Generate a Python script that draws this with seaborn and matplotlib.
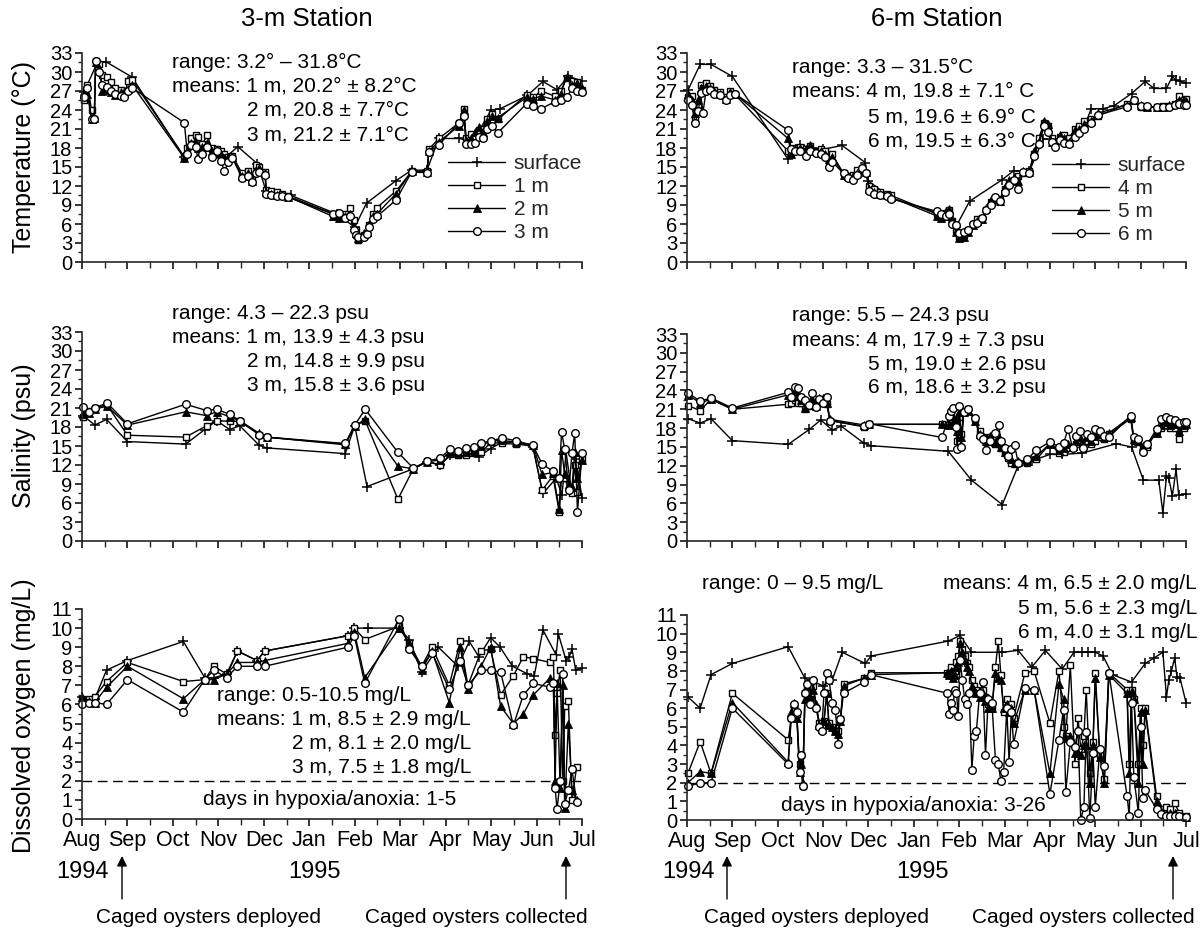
import matplotlib
matplotlib.use("Agg")
import matplotlib.pyplot as plt
from matplotlib.lines import Line2D
from matplotlib.ticker import MultipleLocator
import seaborn as sns

# x positions are months after 1 Aug 1994 (0 = Aug, 11 = Jul 1995)
MONTHS = ["Aug", "Sep", "Oct", "Nov", "Dec", "Jan", "Feb", "Mar", "Apr", "May", "Jun", "Jul"]

# ---- 3-m station, temperature (deg C)
T3_SURF_X = [0.04, 0.34, 0.53, 1.10, 2.25, 2.50, 2.95, 3.20, 3.43, 3.86,
             4.05, 4.60, 5.60, 6.00, 6.26, 6.90, 7.25, 7.59, 7.85, 8.30,
             8.60, 9.00, 9.20, 9.80, 10.14, 10.45, 10.70, 11.00]
T3_SURF = [26.8, 31.5, 31.6, 29.2, 16.5, 18.5, 17.0, 16.8, 18.2, 15.5,
           11.2, 10.5, 7.6, 5.5, 9.3, 12.8, 14.5, 14.5, 19.5, 19.5,
           19.0, 24.0, 24.2, 26.3, 28.5, 27.2, 29.3, 28.6]
T3_X = [0.04, 0.12, 0.21, 0.27, 0.30, 0.38, 0.45, 0.55, 0.64, 0.72,
        0.85, 0.93, 1.02, 1.10, 2.25, 2.32, 2.40, 2.50, 2.55, 2.64,
        2.76, 2.85, 2.98, 3.06, 3.13, 3.22, 3.31, 3.52, 3.65, 3.73,
        3.82, 3.90, 4.03, 4.05, 4.16, 4.29, 4.41, 4.54, 5.52, 5.65,
        5.79, 5.90, 5.98, 6.02, 6.08, 6.20, 6.28, 6.32, 6.40, 6.49,
        6.91, 7.25, 7.59, 7.63, 7.85, 8.30, 8.40, 8.45, 8.55, 8.65,
        8.74, 8.82, 8.90, 9.03, 9.15, 9.78, 9.93, 10.10, 10.40, 10.53,
        10.66, 10.78, 10.90, 11.00]
T3_1M = [25.5, 28.0, 24.0, 22.5, 31.7, 31.2, 29.5, 29.2, 28.4, 27.5,
         27.2, 26.6, 28.6, 28.8, 16.6, 18.0, 19.5, 20.0, 19.8, 18.6,
         20.0, 18.0, 17.8, 17.5, 17.0, 16.5, 16.8, 14.0, 14.3, 13.3,
         15.3, 15.0, 14.2, 11.4, 11.2, 11.0, 10.8, 10.4, 7.6, 7.3,
         7.6, 8.6, 6.6, 5.0, 3.4, 4.2, 4.6, 5.8, 7.6, 8.6,
         11.2, 14.3, 14.3, 17.8, 19.5, 22.0, 24.2, 19.6, 20.2, 19.8,
         20.8, 21.0, 22.5, 23.4, 22.5, 26.4, 26.0, 27.0, 26.2, 27.0,
         29.0, 28.5, 28.4, 27.2]
T3_2M = [27.0, 26.5, 22.5, 22.8, 31.5, 30.5, 27.0, 27.2, 26.8, 26.3,
         26.8, 26.8, 27.3, 28.0, 16.4, 17.5, 18.8, 19.0, 18.0, 18.2,
         18.8, 17.6, 17.2, 17.0, 16.4, 16.6, 16.5, 13.6, 14.0, 12.8,
         14.6, 14.8, 14.0, 11.0, 10.8, 10.6, 10.6, 10.3, 7.2, 7.0,
         7.2, 7.6, 5.5, 4.5, 3.8, 4.5, 4.8, 6.0, 7.2, 7.6,
         10.8, 14.3, 14.2, 17.5, 19.0, 21.5, 24.0, 19.2, 19.5, 20.5,
         21.3, 20.6, 22.2, 23.0, 22.8, 26.0, 25.8, 26.2, 25.6, 26.5,
         29.2, 28.0, 28.2, 27.5]
T3_3M = [26.0, 27.5, 22.5, 22.5, 31.8, 30.0, 28.0, 27.6, 27.0, 26.5,
         26.2, 26.0, 27.0, 27.5, 22.0, 17.0, 18.5, 18.2, 16.2, 17.0,
         18.2, 16.6, 17.5, 16.0, 14.3, 15.8, 16.4, 13.3, 13.5, 12.6,
         14.0, 14.2, 13.8, 10.8, 10.5, 10.4, 10.4, 10.2, 7.6, 7.8,
         7.0, 7.2, 5.0, 4.2, 4.0, 3.9, 4.4, 5.5, 6.8, 7.2,
         9.8, 14.2, 14.1, 17.3, 18.5, 22.0, 23.0, 18.6, 18.6, 18.8,
         19.7, 19.5, 21.0, 21.4, 20.4, 25.0, 24.6, 24.2, 25.3, 25.5,
         26.0, 27.4, 27.0, 26.8]

# ---- 6-m station, temperature (deg C)
T6_SURF_X = [0.02, 0.29, 0.53, 1.00, 2.23, 2.50, 3.00, 3.42, 3.93, 4.00,
             4.50, 5.55, 5.93, 6.23, 6.95, 7.20, 7.55, 7.85, 8.27, 8.74,
             8.91, 9.17, 9.42, 9.80, 10.10, 10.30, 10.57, 10.70, 10.78, 10.87,
             11.00]
T6_SURF = [27.1, 31.2, 31.2, 29.3, 16.2, 18.4, 17.8, 18.4, 15.7, 12.8,
           10.1, 7.7, 5.6, 9.6, 13.0, 14.4, 14.4, 19.4, 19.4, 21.0,
           24.2, 24.2, 24.7, 26.6, 28.5, 27.4, 27.4, 29.3, 28.7, 28.5,
           28.2]
T6_X = [0.02, 0.10, 0.18, 0.25, 0.30, 0.35, 0.42, 0.50, 0.60, 0.72,
        0.85, 0.95, 1.05, 2.23, 2.30, 2.38, 2.50, 2.62, 2.72, 2.85,
        2.95, 3.05, 3.12, 3.20, 3.45, 3.55, 3.65, 3.75, 3.85, 3.95,
        4.02, 4.12, 4.25, 4.40, 4.50, 5.50, 5.60, 5.70, 5.78, 5.85,
        5.92, 6.00, 6.10, 6.20, 6.30, 6.40, 6.50, 6.60, 6.70, 6.80,
        6.90, 7.00, 7.10, 7.20, 7.30, 7.40, 7.55, 7.65, 7.75, 7.88,
        7.96, 8.05, 8.12, 8.22, 8.32, 8.42, 8.55, 8.65, 8.75, 8.90,
        9.05, 9.70, 9.85, 10.00, 10.15, 10.35, 10.50, 10.62, 10.75, 10.85,
        10.95, 11.00]
T6_4M = [26.0, 26.2, 22.5, 24.8, 28.0, 27.5, 28.2, 27.8, 27.2, 26.8,
         26.0, 27.0, 26.5, 17.5, 17.2, 18.0, 18.2, 17.5, 18.3, 17.6,
         17.8, 17.5, 16.0, 17.0, 14.0, 13.5, 13.8, 14.5, 14.8, 14.0,
         12.0, 11.5, 11.0, 10.8, 10.5, 7.6, 7.3, 7.8, 8.2, 6.5,
         5.0, 4.0, 4.2, 5.0, 6.0, 6.8, 7.0, 8.2, 9.5, 9.8,
         10.0, 11.5, 12.5, 12.8, 13.5, 14.0, 14.4, 17.0, 19.5, 22.0,
         21.5, 19.5, 18.8, 19.8, 20.0, 19.5, 21.0, 21.5, 22.2, 22.6,
         23.0, 25.0, 25.5, 24.5, 24.4, 24.5, 24.6, 24.6, 25.0, 26.2,
         25.5, 25.8]
T6_5M = [26.5, 25.5, 23.5, 25.5, 27.5, 27.0, 27.8, 27.5, 27.0, 26.5,
         25.8, 26.8, 26.6, 19.5, 17.0, 17.8, 18.0, 17.8, 18.5, 17.5,
         17.5, 17.0, 16.2, 16.6, 13.8, 13.5, 13.5, 14.0, 14.5, 14.2,
         11.5, 11.0, 10.8, 10.6, 10.2, 7.3, 7.0, 8.0, 8.4, 6.8,
         4.8, 3.8, 4.0, 4.8, 5.8, 6.5, 6.8, 8.5, 9.8, 10.0,
         9.6, 11.8, 13.0, 13.2, 12.8, 14.4, 14.2, 17.5, 19.0, 22.2,
         21.8, 19.0, 18.6, 20.0, 19.5, 19.0, 20.8, 21.0, 21.8, 22.3,
         23.5, 24.8, 25.5, 24.8, 24.4, 24.5, 24.5, 24.8, 25.0, 25.5,
         25.6, 25.4]
T6_6M = [25.5, 24.8, 22.0, 23.8, 26.7, 23.5, 27.0, 27.2, 26.6, 26.3,
         25.5, 26.3, 26.6, 20.8, 17.8, 17.6, 17.5, 16.8, 17.6, 17.2,
         17.0, 16.5, 15.0, 15.8, 14.0, 13.2, 13.0, 13.8, 14.8, 14.0,
         11.2, 10.8, 10.6, 10.4, 10.0, 8.0, 7.6, 7.2, 7.5, 6.0,
         5.8, 4.5, 4.8, 5.0, 6.0, 6.2, 7.0, 8.2, 9.0, 10.2,
         9.6, 11.0, 12.2, 13.0, 11.6, 14.2, 14.0, 16.8, 18.6, 21.5,
         20.5, 19.0, 18.2, 19.2, 18.8, 18.6, 19.8, 20.4, 21.0, 22.0,
         23.2, 24.5, 25.6, 24.6, 24.6, 24.4, 24.4, 24.4, 24.8, 25.0,
         24.8, 24.8]

# ---- 3-m station, salinity (psu)
S3_SURF_X = [0.03, 0.28, 0.54, 1.00, 2.28, 2.70, 2.96, 3.25, 3.47, 3.90,
             4.06, 5.79, 6.00, 6.27, 7.29, 7.59, 7.88, 8.10, 8.73, 8.99,
             9.24, 9.58, 9.92, 10.14, 10.43, 10.56, 10.65, 10.77, 10.86, 11.00]
S3_SURF = [19.8, 18.3, 19.2, 15.7, 15.3, 17.6, 19.0, 17.6, 18.2, 15.1,
           14.7, 13.8, 18.2, 8.6, 11.4, 12.5, 12.0, 13.5, 13.3, 14.6,
           15.6, 15.6, 14.8, 7.5, 9.9, 7.3, 14.0, 7.8, 13.0, 6.8]
S3_X = [0.03, 0.15, 0.28, 0.55, 1.00, 2.28, 2.74, 2.96, 3.25, 3.47,
        3.90, 4.06, 5.79, 6.00, 6.23, 6.95, 7.29, 7.59, 7.88, 8.10,
        8.27, 8.45, 8.62, 8.78, 9.00, 9.24, 9.55, 9.92, 10.12, 10.36,
        10.50, 10.55, 10.62, 10.71, 10.78, 10.84, 10.90, 11.00]
S3_1M = [19.5, 20.5, 21.0, 21.5, 16.7, 16.4, 18.2, 19.0, 18.9, 18.9,
         16.8, 16.4, 15.2, 18.2, 19.0, 6.6, 11.4, 12.6, 12.0, 13.7,
         13.5, 13.5, 14.0, 14.0, 15.6, 15.4, 15.3, 15.0, 8.0, 10.3,
         4.5, 10.0, 10.0, 8.0, 7.5, 12.0, 7.8, 13.0]
S3_2M = [20.0, 20.2, 20.8, 21.3, 18.3, 20.4, 19.8, 20.4, 19.6, 19.0,
         17.0, 16.4, 15.3, 18.2, 19.2, 11.8, 11.4, 12.5, 12.8, 14.0,
         13.9, 14.0, 14.4, 15.0, 15.8, 15.9, 15.6, 15.2, 10.5, 10.8,
         5.0, 14.3, 10.5, 9.0, 8.5, 14.0, 10.0, 12.8]
S3_3M = [21.2, 20.4, 21.0, 21.8, 18.5, 21.6, 20.6, 20.8, 20.0, 19.0,
         16.8, 16.4, 15.4, 18.3, 20.8, 14.0, 11.5, 12.6, 13.1, 14.5,
         14.2, 14.7, 14.8, 15.5, 15.8, 16.3, 15.8, 15.1, 12.2, 11.0,
         10.0, 17.2, 14.5, 8.0, 13.9, 17.0, 4.6, 13.9]

# ---- 6-m station, salinity (psu)
S6_SURF_X = [0.02, 0.29, 0.53, 1.00, 2.23, 2.70, 2.95, 3.20, 3.40, 3.90,
             4.05, 5.76, 6.27, 6.95, 7.30, 7.60, 8.00, 8.27, 8.70, 9.46,
             9.80, 10.06, 10.40, 10.49, 10.57, 10.62, 10.70, 10.78, 10.84, 11.00]
S6_SURF = [19.5, 18.8, 19.5, 16.0, 15.4, 17.8, 19.3, 17.7, 18.3, 15.6,
           15.2, 14.3, 9.7, 5.8, 12.0, 12.8, 13.8, 13.8, 14.0, 15.5,
           15.0, 9.7, 9.7, 4.5, 10.3, 10.0, 7.2, 11.4, 7.3, 7.5]
S6_X = [0.02, 0.29, 0.53, 1.00, 2.23, 2.30, 2.38, 2.45, 2.52, 2.60,
        2.68, 2.76, 2.84, 2.92, 3.00, 3.08, 3.15, 3.90, 4.02, 5.62,
        5.78, 5.82, 5.87, 5.92, 5.96, 6.00, 6.05, 6.10, 6.20, 6.35,
        6.45, 6.52, 6.60, 6.68, 6.78, 6.87, 6.92, 7.00, 7.08, 7.15,
        7.22, 7.30, 7.50, 7.70, 8.00, 8.20, 8.30, 8.40, 8.50, 8.58,
        8.66, 8.74, 8.82, 8.90, 9.00, 9.10, 9.20, 9.30, 9.78, 9.85,
        9.95, 10.05, 10.15, 10.35, 10.45, 10.55, 10.65, 10.75, 10.85, 10.95,
        11.00]
S6_4M = [21.6, 20.8, 22.6, 21.0, 21.8, 22.0, 22.5, 22.0, 22.0, 21.0,
         21.5, 22.0, 22.0, 22.4, 22.5, 21.8, 19.2, 18.2, 18.6, 18.6,
         18.5, 19.5, 18.5, 19.0, 16.0, 19.8, 17.0, 20.8, 21.0, 19.5,
         17.5, 16.5, 15.8, 16.5, 15.5, 16.0, 14.8, 14.0, 13.2, 12.5,
         12.2, 12.5, 12.5, 13.0, 15.5, 14.0, 14.2, 14.8, 15.0, 15.5,
         15.8, 15.3, 16.0, 15.5, 16.0, 16.5, 16.2, 17.0, 19.5, 16.0,
         15.8, 15.0, 15.0, 17.5, 18.0, 18.5, 18.0, 18.0, 16.3, 18.0,
         18.8]
S6_5M = [23.3, 22.0, 22.6, 21.0, 23.3, 23.0, 23.8, 23.2, 22.5, 21.2,
         22.0, 22.5, 21.6, 22.8, 22.8, 22.0, 19.4, 18.5, 18.6, 18.6,
         18.5, 20.0, 19.0, 19.5, 17.5, 20.5, 16.5, 20.5, 20.8, 19.2,
         17.0, 16.8, 16.0, 16.8, 15.8, 16.5, 15.0, 14.2, 13.8, 13.0,
         12.5, 12.7, 12.8, 13.5, 15.5, 14.5, 14.8, 15.5, 15.2, 16.0,
         16.5, 15.5, 16.5, 16.0, 16.8, 17.0, 16.5, 17.2, 19.8, 16.2,
         16.0, 15.2, 15.5, 17.2, 18.5, 19.0, 18.5, 18.6, 17.5, 18.5,
         18.6]
S6_6M = [23.6, 22.3, 22.8, 21.2, 23.7, 23.0, 24.5, 24.4, 23.0, 22.5,
         21.7, 23.6, 21.4, 22.7, 22.0, 22.9, 19.2, 18.3, 18.7, 16.5,
         20.0, 20.8, 21.2, 18.2, 14.7, 21.5, 15.0, 20.5, 21.0, 19.6,
         16.8, 16.2, 14.5, 16.0, 17.2, 18.5, 16.0, 14.8, 13.5, 14.6,
         15.3, 12.5, 13.0, 14.5, 15.8, 15.0, 15.6, 17.8, 14.8, 16.8,
         17.5, 14.8, 17.0, 16.5, 17.8, 17.5, 16.8, 16.5, 20.0, 16.5,
         16.3, 14.2, 15.5, 17.8, 19.5, 19.8, 19.4, 19.3, 18.8, 19.0,
         19.0]

# ---- 3-m station, dissolved oxygen (mg/L)
DO3_SURF_X = [0.00, 0.28, 0.54, 1.00, 2.23, 2.70, 2.90, 3.20, 3.42, 3.85,
              4.02, 5.85, 5.99, 6.30, 6.98, 7.20, 7.47, 7.84, 8.27, 8.52,
              8.73, 8.99, 9.20, 9.47, 9.80, 9.95, 10.14, 10.43, 10.48, 10.65,
              10.72, 10.78, 10.86, 11.00]
DO3_SURF = [6.4, 6.3, 7.8, 8.3, 9.3, 7.4, 7.4, 7.6, 8.8, 8.3,
            8.8, 9.6, 10.0, 10.0, 10.0, 9.4, 7.7, 9.0, 8.0, 9.3,
            8.5, 9.5, 9.0, 8.0, 7.6, 7.5, 9.9, 8.6, 9.7, 8.3,
            8.5, 8.9, 7.8, 7.9]
DO3_X = [0.00, 0.15, 0.28, 0.54, 1.00, 2.23, 2.70, 2.90, 3.18, 3.42,
         3.85, 4.02, 5.85, 5.99, 6.22, 6.98, 7.20, 7.47, 7.70, 8.08,
         8.32, 8.49, 8.78, 8.99, 9.21, 9.49, 9.71, 9.93, 10.30, 10.37,
         10.41, 10.45, 10.52, 10.58, 10.62, 10.70, 10.78, 10.88]
DO3_1M = [6.3, 6.3, 6.4, 7.2, 8.2, 7.2, 7.3, 8.0, 7.6, 8.8,
          8.3, 8.8, 9.6, 10.0, 9.4, 10.1, 9.2, 8.0, 9.0, 7.0,
          9.3, 7.0, 8.8, 8.9, 6.5, 7.5, 8.5, 8.4, 8.2, 8.5,
          4.4, 6.6, 7.8, 2.0, 5.9, 6.2, 1.0, 2.7]
DO3_2M = [6.4, 6.2, 6.1, 6.9, 8.0, 6.3, 7.3, 7.3, 7.6, 8.2,
          8.2, 8.3, 9.2, 9.8, 7.4, 10.0, 9.2, 7.8, 8.8, 6.1,
          9.0, 6.8, 8.0, 9.0, 5.9, 5.0, 5.5, 6.5, 7.4, 7.2,
          2.0, 7.1, 1.6, 7.0, 0.6, 5.0, 1.5, 1.0]
DO3_3M = [6.0, 6.1, 6.1, 6.0, 7.3, 5.6, 7.3, 7.8, 7.4, 8.0,
          8.0, 8.0, 9.0, 9.6, 7.1, 10.5, 8.9, 8.0, 8.7, 6.8,
          8.3, 7.0, 7.8, 7.8, 7.7, 4.9, 6.5, 7.1, 6.9, 7.1,
          1.6, 0.5, 2.0, 7.6, 0.8, 1.5, 2.6, 0.9]

# ---- 6-m station, dissolved oxygen (mg/L)
DO6_SURF_X = [0.02, 0.29, 0.53, 1.00, 2.23, 2.60, 3.00, 3.20, 3.42, 3.93,
              4.06, 5.76, 6.02, 6.27, 6.95, 7.30, 7.60, 7.90, 8.27, 8.53,
              8.70, 8.85, 9.00, 9.17, 9.38, 9.80, 10.10, 10.30, 10.49, 10.57,
              10.62, 10.68, 10.75, 10.80, 10.87, 11.00]
DO6_SURF = [6.6, 6.0, 7.8, 8.4, 9.3, 7.6, 7.2, 7.5, 9.0, 8.4,
            8.8, 9.6, 9.9, 9.0, 9.0, 9.1, 8.2, 9.1, 8.1, 9.0,
            9.0, 9.0, 9.0, 8.8, 7.8, 7.4, 8.4, 8.7, 9.0, 6.6,
            7.5, 8.0, 8.7, 7.7, 7.6, 6.3]
DO6_X = [0.02, 0.29, 0.53, 1.00, 2.23, 2.30, 2.35, 2.42, 2.48, 2.52,
         2.55, 2.60, 2.65, 2.72, 2.78, 2.85, 2.92, 2.97, 3.02, 3.08,
         3.13, 3.20, 3.27, 3.33, 3.38, 3.45, 3.90, 4.05, 5.74, 5.78,
         5.82, 5.86, 5.90, 5.94, 5.98, 6.02, 6.07, 6.12, 6.17, 6.22,
         6.28, 6.33, 6.38, 6.45, 6.52, 6.58, 6.64, 6.72, 6.80, 6.86,
         6.92, 6.98, 7.05, 7.10, 7.15, 7.20, 7.45, 7.65, 8.00, 8.20,
         8.30, 8.35, 8.45, 8.55, 8.62, 8.68, 8.75, 8.80, 8.88, 8.95,
         9.00, 9.10, 9.20, 9.30, 9.70, 9.75, 9.80, 9.85, 9.95, 10.00,
         10.05, 10.10, 10.35, 10.45, 10.55, 10.65, 10.75, 10.85, 11.00]
DO6_4M = [2.5, 4.2, 2.5, 6.8, 4.3, 5.5, 6.0, 5.7, 3.0, 3.5,
          1.8, 6.8, 7.0, 6.5, 7.2, 6.0, 5.2, 5.0, 5.3, 6.8,
          5.2, 5.0, 4.8, 4.8, 5.4, 7.3, 7.6, 7.9, 7.9, 7.8,
          8.2, 7.8, 8.0, 8.5, 8.8, 9.6, 9.2, 8.8, 8.4, 8.2,
          7.5, 7.2, 7.0, 6.8, 7.0, 6.6, 6.2, 6.0, 8.2, 9.6,
          7.8, 5.8, 6.5, 6.0, 6.2, 5.5, 7.9, 8.0, 5.2, 8.0,
          5.0, 4.5, 8.3, 3.0, 5.5, 3.8, 4.5, 7.0, 2.5, 4.2,
          7.9, 3.5, 2.2, 7.9, 7.0, 3.0, 7.0, 6.5, 3.0, 6.0,
          4.0, 6.0, 1.3, 0.6, 0.7, 0.6, 0.9, 0.4, 0.2]
DO6_5M = [2.0, 2.6, 2.5, 6.3, 3.1, 5.8, 6.3, 5.5, 2.6, 3.0,
          2.0, 6.5, 7.2, 6.6, 7.0, 6.2, 5.1, 4.9, 5.3, 6.8,
          5.1, 5.0, 4.8, 4.6, 5.3, 7.2, 7.6, 7.8, 7.9, 7.8,
          8.0, 7.6, 7.8, 8.2, 8.5, 9.5, 9.0, 8.6, 8.2, 8.0,
          7.2, 7.0, 6.8, 6.6, 6.8, 6.4, 6.0, 6.0, 7.9, 7.6,
          7.5, 6.0, 6.2, 5.8, 6.0, 5.2, 7.0, 7.0, 2.5, 7.3,
          6.5, 4.4, 4.5, 3.6, 3.6, 3.5, 4.0, 4.0, 2.0, 4.0,
          7.6, 3.4, 2.0, 7.8, 6.8, 2.5, 6.9, 6.5, 2.0, 5.8,
          3.0, 5.9, 1.0, 0.5, 0.3, 0.4, 0.4, 0.2, 0.15]
DO6_6M = [1.8, 2.0, 2.0, 6.0, 3.0, 5.5, 6.2, 5.8, 2.6, 3.5,
          1.8, 6.8, 7.3, 6.2, 7.5, 6.0, 5.0, 4.8, 6.8, 7.9,
          7.5, 6.3, 5.9, 4.1, 5.4, 6.8, 7.4, 7.8, 6.8, 5.7,
          6.3, 5.9, 7.0, 6.8, 5.6, 8.6, 7.5, 6.5, 6.2, 6.8,
          2.7, 4.5, 4.8, 6.8, 7.4, 3.5, 6.5, 6.3, 3.2, 3.0,
          2.1, 2.6, 6.0, 3.1, 5.8, 4.1, 7.1, 7.0, 1.4, 4.3,
          5.9, 1.5, 4.2, 3.9, 4.8, 0.0, 0.7, 4.7, 0.1, 3.6,
          0.7, 3.8, 2.9, 7.9, 1.3, 0.2, 6.3, 2.3, 0.4, 5.0,
          1.2, 1.6, 0.6, 0.3, 0.2, 0.2, 0.2, 0.2, 0.15]

# ---------------------------------------------------------------------------
W, H = 1200, 930
sns.set_style("ticks")
plt.rcParams["font.family"] = ["Liberation Sans", "DejaVu Sans"]
plt.rcParams["axes.linewidth"] = 1.2

fig = plt.figure(figsize=(W / 100, H / 100), dpi=100)

STYLES = {
    "surf": dict(marker="+", markersize=7.5, markeredgewidth=1.1),
    "sq": dict(marker="s", markersize=5, markerfacecolor="white", markeredgewidth=1.0),
    "tri": dict(marker="^", markersize=5.5, markerfacecolor="black", markeredgewidth=0.6),
    "circ": dict(marker="o", markersize=5.5, markerfacecolor="white", markeredgewidth=1.0),
}


def make_ax(x0, x1, y0, y1):
    a = fig.add_axes([x0 / W, 1 - y1 / H, (x1 - x0) / W, (y1 - y0) / H])
    a.set_facecolor("none")
    return a


def series(ax, x, y, kind):
    sns.lineplot(x=x, y=y, ax=ax, color="black", lw=1.0, sort=False,
                 estimator=None, markeredgecolor="black", legend=False,
                 clip_on=False, **STYLES[kind])


def panel(ax, surf_x, surf_y, x, d1, d2, d3, ymax, ystep, bottom):
    series(ax, surf_x, surf_y, "surf")
    series(ax, x, d1, "sq")
    series(ax, x, d2, "tri")
    series(ax, x, d3, "circ")
    ax.set_xlim(0, 11)
    ax.set_ylim(0, ymax)
    ax.set_yticks(range(0, ymax + 1, ystep))
    ax.yaxis.set_minor_locator(MultipleLocator(ystep / 2))
    ax.set_xticks(range(12))
    ax.xaxis.set_minor_locator(MultipleLocator(0.5))
    ax.set_xticklabels(MONTHS if bottom else [])
    ax.set_xlabel("")
    ax.set_ylabel("")
    sns.despine(ax=ax)
    ax.tick_params(which="major", direction="out", length=5, width=1.1,
                   labelsize=14.5, pad=2, colors="black")
    ax.tick_params(which="minor", direction="out", length=3, width=1.0)
    ax.tick_params(axis="x", which="minor", length=4.5)
    ax.tick_params(axis="x", which="major", pad=3, labelsize=15.5)


def legend(ax, labels, x, y):
    handles = [Line2D([], [], color="black", lw=1.0, markeredgecolor="black", **STYLES[k])
               for k in ["surf", "sq", "tri", "circ"]]
    ax.legend(handles, labels, loc="upper left", bbox_to_anchor=(x / W, 1 - y / H),
              bbox_transform=fig.transFigure, frameon=False, fontsize=15,
              numpoints=1, handlelength=2.75, handletextpad=0.4,
              labelspacing=0.2, borderpad=0, borderaxespad=0)


LX0, LX1 = 82, 582
RX0, RX1 = 687, 1186

ax = make_ax(LX0, LX1, 53, 262)
panel(ax, T3_SURF_X, T3_SURF, T3_X, T3_1M, T3_2M, T3_3M, 33, 3, False)
legend(ax, ["surface", "1 m", "2 m", "3 m"], 448, 154)

ax = make_ax(RX0, RX1, 53, 262)
panel(ax, T6_SURF_X, T6_SURF, T6_X, T6_4M, T6_5M, T6_6M, 33, 3, False)
legend(ax, ["surface", "4 m", "5 m", "6 m"], 1052, 156)

ax = make_ax(LX0, LX1, 332, 541)
panel(ax, S3_SURF_X, S3_SURF, S3_X, S3_1M, S3_2M, S3_3M, 33, 3, False)

ax = make_ax(RX0, RX1, 334, 541)
panel(ax, S6_SURF_X, S6_SURF, S6_X, S6_4M, S6_5M, S6_6M, 33, 3, False)

ax = make_ax(LX0, LX1, 609, 819)
panel(ax, DO3_SURF_X, DO3_SURF, DO3_X, DO3_1M, DO3_2M, DO3_3M, 11, 1, True)
ax.axhline(2, color="black", lw=1.0, ls=(0, (7, 4)), zorder=0)

ax = make_ax(RX0, RX1, 615, 820)
panel(ax, DO6_SURF_X, DO6_SURF, DO6_X, DO6_4M, DO6_5M, DO6_6M, 11, 1, True)
ax.axhline(2, color="black", lw=1.0, ls=(0, (7, 4)), zorder=0)

# overlay in pixel coordinates for free text and arrows
ov = fig.add_axes([0, 0, 1, 1], zorder=5)
ov.set_xlim(0, W)
ov.set_ylim(H, 0)
ov.axis("off")


def txt(x, y, s, size=15, ha="left", **kw):
    ov.text(x, y, s, fontsize=size, ha=ha, va="center", color="black", **kw)


txt(307, 19, "3-m Station", 18.5, "center")
txt(937, 19, "6-m Station", 18.5, "center")

txt(24, 157, "Temperature (\u00b0C)", 18, "center", rotation=90)
txt(24, 436, "Salinity (psu)", 18, "center", rotation=90)
txt(24, 716, "Dissolved oxygen (mg/L)", 18, "center", rotation=90)

txt(172, 62, "range: 3.2\u00b0 \u2013 31.8\u00b0C")
txt(172, 86, "means: 1 m, 20.2\u00b0 \u00b1 8.2\u00b0C")
txt(247, 110, "2 m, 20.8 \u00b1 7.7\u00b0C")
txt(247, 135, "3 m, 21.2 \u00b1 7.1\u00b0C")

txt(792, 67, "range: 3.3 \u2013 31.5\u00b0C")
txt(792, 91, "means: 4 m, 19.8 \u00b1 7.1\u00b0 C")
txt(868, 117, "5 m, 19.6 \u00b1 6.9\u00b0 C")
txt(868, 141, "6 m, 19.5 \u00b1 6.3\u00b0 C")

txt(172, 313, "range: 4.3 \u2013 22.3 psu")
txt(172, 337, "means: 1 m, 13.9 \u00b1 4.3 psu")
txt(247, 361, "2 m, 14.8 \u00b1 9.9 psu")
txt(247, 385, "3 m, 15.8 \u00b1 3.6 psu")

txt(792, 315, "range: 5.5 \u2013 24.3 psu")
txt(792, 340, "means: 4 m, 17.9 \u00b1 7.3 psu")
txt(868, 364, "5 m, 19.0 \u00b1 2.6 psu")
txt(868, 387, "6 m, 18.6 \u00b1 3.2 psu")

txt(217, 695, "range: 0.5-10.5 mg/L")
txt(217, 719, "means: 1 m, 8.5 \u00b1 2.9 mg/L")
txt(292, 743, "2 m, 8.1 \u00b1 2.0 mg/L")
txt(292, 767, "3 m, 7.5 \u00b1 1.8 mg/L")
txt(203, 799, "days in hypoxia/anoxia: 1-5")

txt(702, 583, "range: 0 \u2013 9.5 mg/L")
txt(1197, 583, "means: 4 m, 6.5 \u00b1 2.0 mg/L", ha="right")
txt(1197, 608, "5 m, 5.6 \u00b1 2.3 mg/L", ha="right")
txt(1197, 632, "6 m, 4.0 \u00b1 3.1 mg/L", ha="right")
txt(781, 805, "days in hypoxia/anoxia: 3-26")

for x94, x95 in [(82, 315), (689, 922)]:
    txt(x94, 872, "1994", 17, "center")
    txt(x95, 872, "1995", 17, "center")

for xa in [122, 566, 727, 1173]:
    ov.annotate("", xy=(xa, 856), xytext=(xa, 899),
                arrowprops=dict(arrowstyle="-|>", color="black", lw=1.0,
                                mutation_scale=15, shrinkA=0, shrinkB=0))

txt(209, 917, "Caged oysters deployed", 15, "center")
txt(476, 917, "Caged oysters collected", 15, "center")
txt(817, 917, "Caged oysters deployed", 15, "center")
txt(1083, 917, "Caged oysters collected", 15, "center")

fig.savefig("out.png", dpi=100)
